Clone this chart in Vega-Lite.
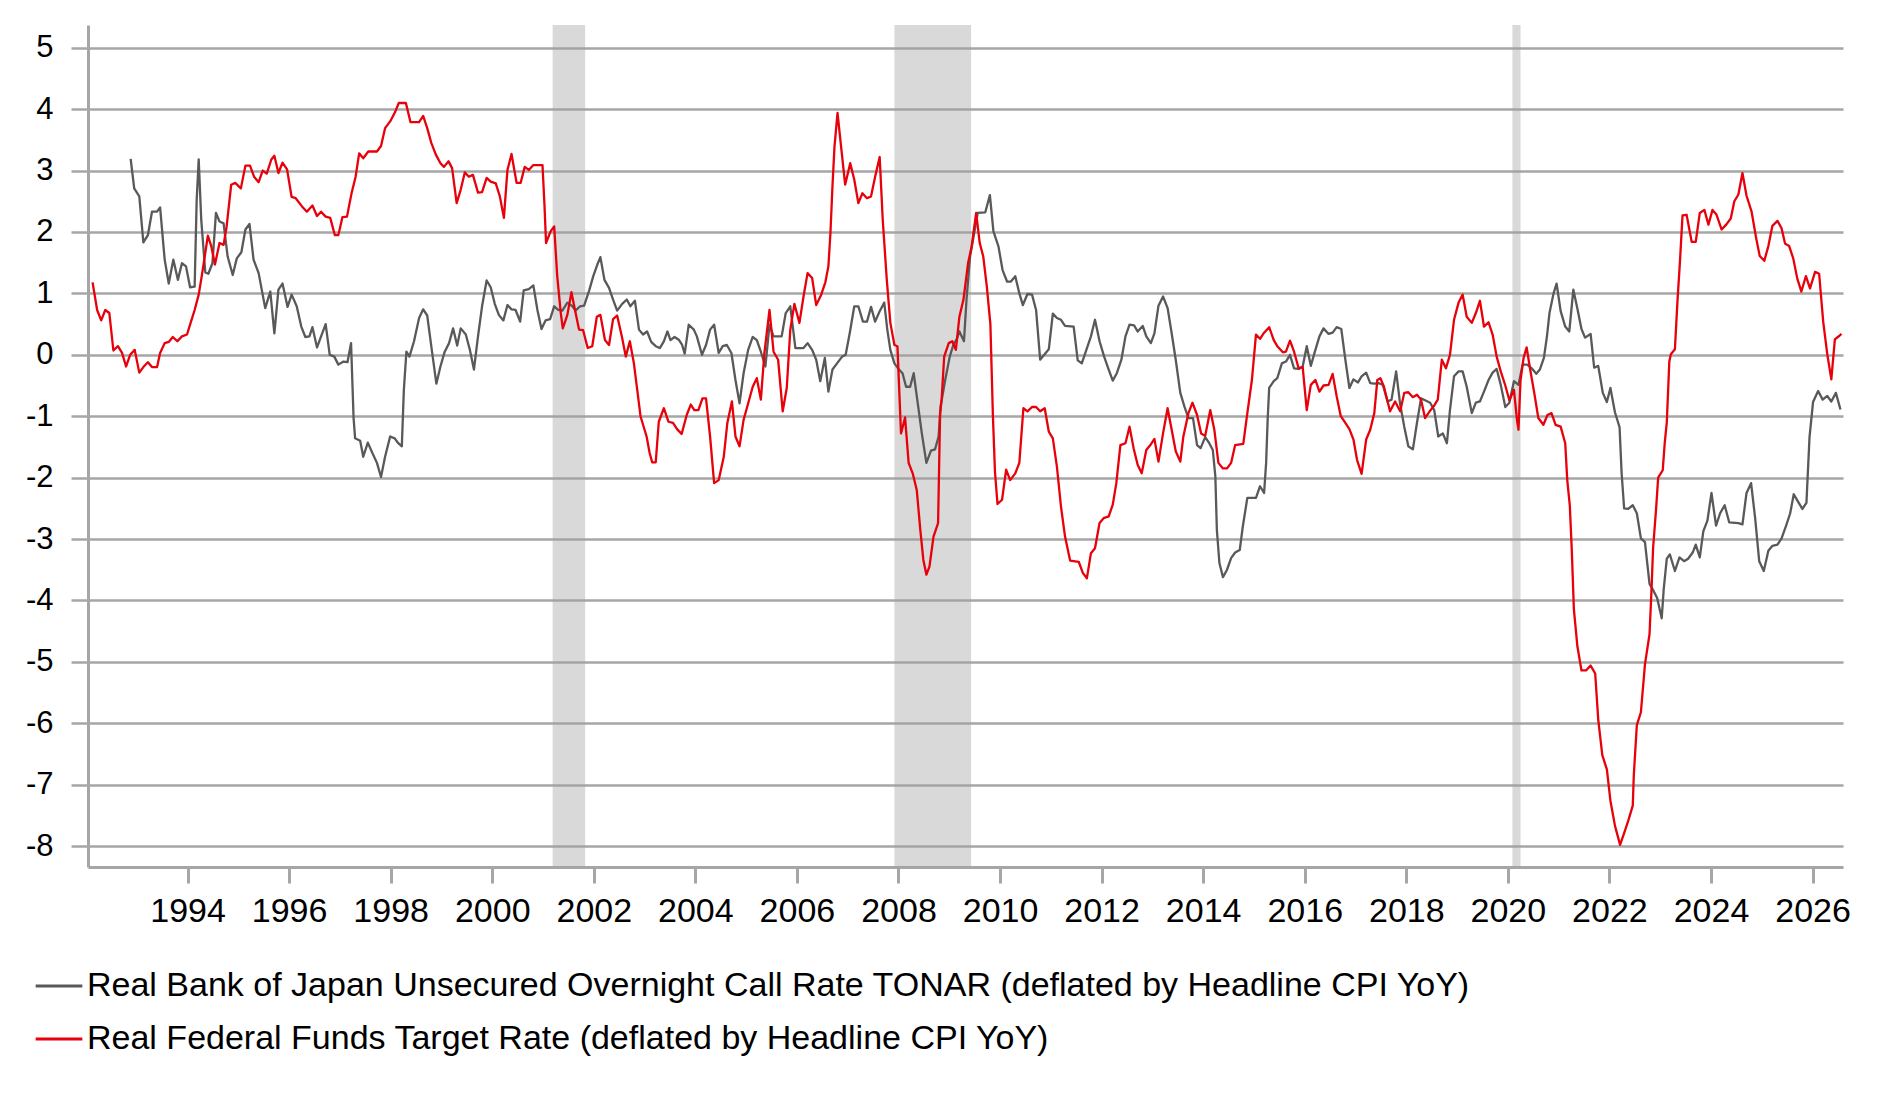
{
  "$schema": "https://vega.github.io/schema/vega-lite/v6.json",
  "width": 1755,
  "height": 842,
  "autosize": "none",
  "padding": {"left": 88, "top": 25, "right": 40, "bottom": 234},
  "background": "white",
  "config": {"view": {"stroke": null}, "font": "Liberation Sans"},
  "datasets": {
    "recessions": [
      {"start": 2001.19, "end": 2001.83},
      {"start": 2007.92, "end": 2009.43},
      {"start": 2020.09, "end": 2020.25}
    ],
    "rates": [
      {"s":"JP","t":1992.88,"v":3.19},{"s":"JP","t":1992.95,"v":2.71},{"s":"JP","t":1993.05,"v":2.58},{"s":"JP","t":1993.13,"v":1.83},
      {"s":"JP","t":1993.22,"v":1.95},{"s":"JP","t":1993.30,"v":2.33},{"s":"JP","t":1993.40,"v":2.33},{"s":"JP","t":1993.46,"v":2.40},
      {"s":"JP","t":1993.55,"v":1.55},{"s":"JP","t":1993.63,"v":1.16},{"s":"JP","t":1993.72,"v":1.55},{"s":"JP","t":1993.81,"v":1.22},
      {"s":"JP","t":1993.89,"v":1.49},{"s":"JP","t":1993.97,"v":1.44},{"s":"JP","t":1994.05,"v":1.10},{"s":"JP","t":1994.14,"v":1.11},
      {"s":"JP","t":1994.18,"v":2.52},{"s":"JP","t":1994.22,"v":3.18},{"s":"JP","t":1994.27,"v":2.20},{"s":"JP","t":1994.35,"v":1.34},
      {"s":"JP","t":1994.41,"v":1.32},{"s":"JP","t":1994.49,"v":1.49},{"s":"JP","t":1994.56,"v":2.31},{"s":"JP","t":1994.63,"v":2.17},
      {"s":"JP","t":1994.71,"v":2.14},{"s":"JP","t":1994.79,"v":1.60},{"s":"JP","t":1994.89,"v":1.30},{"s":"JP","t":1994.97,"v":1.57},
      {"s":"JP","t":1995.06,"v":1.67},{"s":"JP","t":1995.14,"v":2.04},{"s":"JP","t":1995.22,"v":2.13},{"s":"JP","t":1995.30,"v":1.55},
      {"s":"JP","t":1995.40,"v":1.33},{"s":"JP","t":1995.53,"v":0.76},{"s":"JP","t":1995.63,"v":1.03},{"s":"JP","t":1995.71,"v":0.35},
      {"s":"JP","t":1995.79,"v":1.06},{"s":"JP","t":1995.87,"v":1.16},{"s":"JP","t":1995.97,"v":0.78},{"s":"JP","t":1996.05,"v":0.98},
      {"s":"JP","t":1996.15,"v":0.79},{"s":"JP","t":1996.24,"v":0.46},{"s":"JP","t":1996.32,"v":0.29},{"s":"JP","t":1996.40,"v":0.30},
      {"s":"JP","t":1996.46,"v":0.45},{"s":"JP","t":1996.55,"v":0.12},{"s":"JP","t":1996.63,"v":0.30},{"s":"JP","t":1996.72,"v":0.50},
      {"s":"JP","t":1996.80,"v":0.00},{"s":"JP","t":1996.89,"v":-0.03},{"s":"JP","t":1996.97,"v":-0.16},{"s":"JP","t":1997.07,"v":-0.11},
      {"s":"JP","t":1997.15,"v":-0.12},{"s":"JP","t":1997.22,"v":0.19},{"s":"JP","t":1997.27,"v":-1.03},{"s":"JP","t":1997.30,"v":-1.36},
      {"s":"JP","t":1997.40,"v":-1.40},{"s":"JP","t":1997.46,"v":-1.66},{"s":"JP","t":1997.55,"v":-1.43},{"s":"JP","t":1997.64,"v":-1.60},
      {"s":"JP","t":1997.73,"v":-1.76},{"s":"JP","t":1997.81,"v":-1.99},{"s":"JP","t":1997.89,"v":-1.66},{"s":"JP","t":1997.99,"v":-1.33},
      {"s":"JP","t":1998.08,"v":-1.36},{"s":"JP","t":1998.15,"v":-1.44},{"s":"JP","t":1998.22,"v":-1.49},{"s":"JP","t":1998.26,"v":-0.57},
      {"s":"JP","t":1998.31,"v":0.05},{"s":"JP","t":1998.37,"v":-0.03},{"s":"JP","t":1998.46,"v":0.22},{"s":"JP","t":1998.56,"v":0.60},
      {"s":"JP","t":1998.64,"v":0.74},{"s":"JP","t":1998.72,"v":0.64},{"s":"JP","t":1998.81,"v":0.08},{"s":"JP","t":1998.90,"v":-0.47},
      {"s":"JP","t":1998.98,"v":-0.19},{"s":"JP","t":1999.06,"v":0.04},{"s":"JP","t":1999.15,"v":0.19},{"s":"JP","t":1999.23,"v":0.43},
      {"s":"JP","t":1999.31,"v":0.15},{"s":"JP","t":1999.38,"v":0.43},{"s":"JP","t":1999.48,"v":0.33},{"s":"JP","t":1999.56,"v":0.08},
      {"s":"JP","t":1999.64,"v":-0.24},{"s":"JP","t":1999.72,"v":0.30},{"s":"JP","t":1999.80,"v":0.79},{"s":"JP","t":1999.89,"v":1.21},
      {"s":"JP","t":1999.97,"v":1.10},{"s":"JP","t":2000.05,"v":0.83},{"s":"JP","t":2000.13,"v":0.65},{"s":"JP","t":2000.22,"v":0.56},
      {"s":"JP","t":2000.30,"v":0.81},{"s":"JP","t":2000.38,"v":0.74},{"s":"JP","t":2000.46,"v":0.73},{"s":"JP","t":2000.55,"v":0.54},
      {"s":"JP","t":2000.62,"v":1.05},{"s":"JP","t":2000.72,"v":1.07},{"s":"JP","t":2000.81,"v":1.13},{"s":"JP","t":2000.89,"v":0.73},
      {"s":"JP","t":2000.97,"v":0.42},{"s":"JP","t":2001.05,"v":0.56},{"s":"JP","t":2001.14,"v":0.58},{"s":"JP","t":2001.22,"v":0.79},
      {"s":"JP","t":2001.30,"v":0.73},{"s":"JP","t":2001.38,"v":0.72},{"s":"JP","t":2001.48,"v":0.85},{"s":"JP","t":2001.58,"v":0.79},
      {"s":"JP","t":2001.64,"v":0.72},{"s":"JP","t":2001.73,"v":0.79},{"s":"JP","t":2001.81,"v":0.80},{"s":"JP","t":2001.91,"v":1.05},
      {"s":"JP","t":2001.99,"v":1.28},{"s":"JP","t":2002.07,"v":1.47},{"s":"JP","t":2002.13,"v":1.59},{"s":"JP","t":2002.21,"v":1.22},
      {"s":"JP","t":2002.30,"v":1.09},{"s":"JP","t":2002.38,"v":0.90},{"s":"JP","t":2002.46,"v":0.72},{"s":"JP","t":2002.56,"v":0.83},
      {"s":"JP","t":2002.65,"v":0.90},{"s":"JP","t":2002.72,"v":0.79},{"s":"JP","t":2002.81,"v":0.88},{"s":"JP","t":2002.89,"v":0.41},
      {"s":"JP","t":2002.97,"v":0.33},{"s":"JP","t":2003.05,"v":0.38},{"s":"JP","t":2003.13,"v":0.21},{"s":"JP","t":2003.22,"v":0.14},
      {"s":"JP","t":2003.30,"v":0.11},{"s":"JP","t":2003.38,"v":0.22},{"s":"JP","t":2003.45,"v":0.38},{"s":"JP","t":2003.51,"v":0.24},
      {"s":"JP","t":2003.59,"v":0.29},{"s":"JP","t":2003.68,"v":0.24},{"s":"JP","t":2003.74,"v":0.16},{"s":"JP","t":2003.79,"v":0.02},
      {"s":"JP","t":2003.87,"v":0.49},{"s":"JP","t":2003.97,"v":0.41},{"s":"JP","t":2004.03,"v":0.30},{"s":"JP","t":2004.13,"v":0.00},
      {"s":"JP","t":2004.21,"v":0.16},{"s":"JP","t":2004.29,"v":0.41},{"s":"JP","t":2004.37,"v":0.49},{"s":"JP","t":2004.46,"v":0.03},
      {"s":"JP","t":2004.54,"v":0.14},{"s":"JP","t":2004.62,"v":0.16},{"s":"JP","t":2004.71,"v":0.03},{"s":"JP","t":2004.79,"v":-0.41},
      {"s":"JP","t":2004.87,"v":-0.79},{"s":"JP","t":2004.95,"v":-0.30},{"s":"JP","t":2005.04,"v":0.08},{"s":"JP","t":2005.13,"v":0.29},
      {"s":"JP","t":2005.21,"v":0.24},{"s":"JP","t":2005.29,"v":0.05},{"s":"JP","t":2005.38,"v":-0.19},{"s":"JP","t":2005.46,"v":0.49},
      {"s":"JP","t":2005.54,"v":0.30},{"s":"JP","t":2005.70,"v":0.30},{"s":"JP","t":2005.78,"v":0.68},{"s":"JP","t":2005.87,"v":0.79},
      {"s":"JP","t":2005.97,"v":0.11},{"s":"JP","t":2006.13,"v":0.11},{"s":"JP","t":2006.21,"v":0.19},{"s":"JP","t":2006.30,"v":0.08},
      {"s":"JP","t":2006.38,"v":-0.08},{"s":"JP","t":2006.46,"v":-0.43},{"s":"JP","t":2006.55,"v":-0.05},{"s":"JP","t":2006.62,"v":-0.60},
      {"s":"JP","t":2006.70,"v":-0.24},{"s":"JP","t":2006.79,"v":-0.14},{"s":"JP","t":2006.89,"v":-0.03},{"s":"JP","t":2006.96,"v":0.00},
      {"s":"JP","t":2007.04,"v":0.35},{"s":"JP","t":2007.13,"v":0.79},{"s":"JP","t":2007.21,"v":0.79},{"s":"JP","t":2007.30,"v":0.54},
      {"s":"JP","t":2007.38,"v":0.54},{"s":"JP","t":2007.46,"v":0.78},{"s":"JP","t":2007.54,"v":0.54},{"s":"JP","t":2007.63,"v":0.71},
      {"s":"JP","t":2007.72,"v":0.85},{"s":"JP","t":2007.78,"v":0.41},{"s":"JP","t":2007.84,"v":0.08},{"s":"JP","t":2007.92,"v":-0.14},
      {"s":"JP","t":2008.00,"v":-0.23},{"s":"JP","t":2008.08,"v":-0.30},{"s":"JP","t":2008.15,"v":-0.52},{"s":"JP","t":2008.23,"v":-0.52},
      {"s":"JP","t":2008.30,"v":-0.30},{"s":"JP","t":2008.37,"v":-0.73},{"s":"JP","t":2008.46,"v":-1.28},{"s":"JP","t":2008.55,"v":-1.76},
      {"s":"JP","t":2008.64,"v":-1.56},{"s":"JP","t":2008.72,"v":-1.54},{"s":"JP","t":2008.79,"v":-1.33},{"s":"JP","t":2008.83,"v":-0.84},
      {"s":"JP","t":2008.92,"v":-0.41},{"s":"JP","t":2009.01,"v":-0.03},{"s":"JP","t":2009.08,"v":0.16},{"s":"JP","t":2009.15,"v":0.26},
      {"s":"JP","t":2009.20,"v":0.38},{"s":"JP","t":2009.29,"v":0.22},{"s":"JP","t":2009.34,"v":0.90},{"s":"JP","t":2009.41,"v":1.60},
      {"s":"JP","t":2009.48,"v":1.93},{"s":"JP","t":2009.56,"v":2.31},{"s":"JP","t":2009.71,"v":2.32},{"s":"JP","t":2009.80,"v":2.60},
      {"s":"JP","t":2009.87,"v":2.01},{"s":"JP","t":2009.97,"v":1.76},{"s":"JP","t":2010.05,"v":1.38},{"s":"JP","t":2010.14,"v":1.19},
      {"s":"JP","t":2010.21,"v":1.19},{"s":"JP","t":2010.30,"v":1.28},{"s":"JP","t":2010.38,"v":1.00},{"s":"JP","t":2010.45,"v":0.81},
      {"s":"JP","t":2010.54,"v":0.99},{"s":"JP","t":2010.63,"v":0.98},{"s":"JP","t":2010.71,"v":0.73},{"s":"JP","t":2010.79,"v":-0.08},
      {"s":"JP","t":2010.87,"v":0.00},{"s":"JP","t":2010.96,"v":0.09},{"s":"JP","t":2011.04,"v":0.67},{"s":"JP","t":2011.12,"v":0.60},
      {"s":"JP","t":2011.20,"v":0.57},{"s":"JP","t":2011.28,"v":0.47},{"s":"JP","t":2011.45,"v":0.46},{"s":"JP","t":2011.53,"v":-0.09},
      {"s":"JP","t":2011.61,"v":-0.14},{"s":"JP","t":2011.70,"v":0.08},{"s":"JP","t":2011.79,"v":0.30},{"s":"JP","t":2011.87,"v":0.57},
      {"s":"JP","t":2011.96,"v":0.22},{"s":"JP","t":2012.05,"v":-0.03},{"s":"JP","t":2012.14,"v":-0.24},{"s":"JP","t":2012.22,"v":-0.42},
      {"s":"JP","t":2012.30,"v":-0.30},{"s":"JP","t":2012.39,"v":-0.08},{"s":"JP","t":2012.47,"v":0.30},{"s":"JP","t":2012.55,"v":0.49},
      {"s":"JP","t":2012.64,"v":0.48},{"s":"JP","t":2012.71,"v":0.38},{"s":"JP","t":2012.81,"v":0.47},{"s":"JP","t":2012.88,"v":0.30},
      {"s":"JP","t":2012.97,"v":0.19},{"s":"JP","t":2013.04,"v":0.35},{"s":"JP","t":2013.12,"v":0.80},{"s":"JP","t":2013.21,"v":0.95},
      {"s":"JP","t":2013.30,"v":0.76},{"s":"JP","t":2013.38,"v":0.35},{"s":"JP","t":2013.46,"v":-0.08},{"s":"JP","t":2013.55,"v":-0.62},
      {"s":"JP","t":2013.63,"v":-0.84},{"s":"JP","t":2013.71,"v":-1.03},{"s":"JP","t":2013.80,"v":-1.03},{"s":"JP","t":2013.88,"v":-1.47},
      {"s":"JP","t":2013.95,"v":-1.52},{"s":"JP","t":2014.04,"v":-1.34},{"s":"JP","t":2014.12,"v":-1.44},{"s":"JP","t":2014.19,"v":-1.55},
      {"s":"JP","t":2014.24,"v":-1.98},{"s":"JP","t":2014.27,"v":-2.85},{"s":"JP","t":2014.32,"v":-3.39},{"s":"JP","t":2014.39,"v":-3.62},
      {"s":"JP","t":2014.47,"v":-3.50},{"s":"JP","t":2014.55,"v":-3.31},{"s":"JP","t":2014.63,"v":-3.22},{"s":"JP","t":2014.72,"v":-3.18},
      {"s":"JP","t":2014.78,"v":-2.80},{"s":"JP","t":2014.87,"v":-2.33},{"s":"JP","t":2015.04,"v":-2.33},{"s":"JP","t":2015.12,"v":-2.14},
      {"s":"JP","t":2015.20,"v":-2.25},{"s":"JP","t":2015.24,"v":-1.76},{"s":"JP","t":2015.27,"v":-1.06},{"s":"JP","t":2015.30,"v":-0.54},
      {"s":"JP","t":2015.39,"v":-0.43},{"s":"JP","t":2015.46,"v":-0.38},{"s":"JP","t":2015.55,"v":-0.14},{"s":"JP","t":2015.63,"v":-0.11},
      {"s":"JP","t":2015.71,"v":0.00},{"s":"JP","t":2015.79,"v":-0.22},{"s":"JP","t":2015.88,"v":-0.23},{"s":"JP","t":2015.96,"v":-0.19},
      {"s":"JP","t":2016.04,"v":0.14},{"s":"JP","t":2016.12,"v":-0.18},{"s":"JP","t":2016.21,"v":0.08},{"s":"JP","t":2016.29,"v":0.30},
      {"s":"JP","t":2016.37,"v":0.43},{"s":"JP","t":2016.47,"v":0.34},{"s":"JP","t":2016.55,"v":0.36},{"s":"JP","t":2016.63,"v":0.45},
      {"s":"JP","t":2016.72,"v":0.42},{"s":"JP","t":2016.80,"v":-0.08},{"s":"JP","t":2016.88,"v":-0.54},{"s":"JP","t":2016.96,"v":-0.40},
      {"s":"JP","t":2017.05,"v":-0.45},{"s":"JP","t":2017.12,"v":-0.35},{"s":"JP","t":2017.21,"v":-0.29},{"s":"JP","t":2017.29,"v":-0.46},
      {"s":"JP","t":2017.37,"v":-0.47},{"s":"JP","t":2017.45,"v":-0.46},{"s":"JP","t":2017.54,"v":-0.49},{"s":"JP","t":2017.63,"v":-0.76},
      {"s":"JP","t":2017.71,"v":-0.73},{"s":"JP","t":2017.80,"v":-0.27},{"s":"JP","t":2017.88,"v":-0.81},{"s":"JP","t":2017.96,"v":-1.17},
      {"s":"JP","t":2018.04,"v":-1.49},{"s":"JP","t":2018.13,"v":-1.54},{"s":"JP","t":2018.21,"v":-1.11},{"s":"JP","t":2018.29,"v":-0.71},
      {"s":"JP","t":2018.37,"v":-0.74},{"s":"JP","t":2018.47,"v":-0.78},{"s":"JP","t":2018.55,"v":-0.90},{"s":"JP","t":2018.63,"v":-1.33},
      {"s":"JP","t":2018.72,"v":-1.28},{"s":"JP","t":2018.80,"v":-1.44},{"s":"JP","t":2018.86,"v":-0.90},{"s":"JP","t":2018.94,"v":-0.35},
      {"s":"JP","t":2019.03,"v":-0.27},{"s":"JP","t":2019.11,"v":-0.27},{"s":"JP","t":2019.19,"v":-0.52},{"s":"JP","t":2019.29,"v":-0.95},
      {"s":"JP","t":2019.37,"v":-0.78},{"s":"JP","t":2019.45,"v":-0.76},{"s":"JP","t":2019.53,"v":-0.60},{"s":"JP","t":2019.62,"v":-0.41},
      {"s":"JP","t":2019.70,"v":-0.29},{"s":"JP","t":2019.78,"v":-0.23},{"s":"JP","t":2019.86,"v":-0.49},{"s":"JP","t":2019.95,"v":-0.85},
      {"s":"JP","t":2020.03,"v":-0.78},{"s":"JP","t":2020.12,"v":-0.43},{"s":"JP","t":2020.21,"v":-0.49},{"s":"JP","t":2020.29,"v":-0.16},
      {"s":"JP","t":2020.38,"v":-0.16},{"s":"JP","t":2020.47,"v":-0.22},{"s":"JP","t":2020.56,"v":-0.31},{"s":"JP","t":2020.63,"v":-0.24},
      {"s":"JP","t":2020.71,"v":-0.05},{"s":"JP","t":2020.77,"v":0.30},{"s":"JP","t":2020.82,"v":0.68},{"s":"JP","t":2020.90,"v":1.00},
      {"s":"JP","t":2020.96,"v":1.16},{"s":"JP","t":2021.04,"v":0.71},{"s":"JP","t":2021.13,"v":0.46},{"s":"JP","t":2021.21,"v":0.38},
      {"s":"JP","t":2021.29,"v":1.06},{"s":"JP","t":2021.37,"v":0.75},{"s":"JP","t":2021.45,"v":0.42},{"s":"JP","t":2021.52,"v":0.28},
      {"s":"JP","t":2021.63,"v":0.34},{"s":"JP","t":2021.70,"v":-0.21},{"s":"JP","t":2021.78,"v":-0.18},{"s":"JP","t":2021.87,"v":-0.62},
      {"s":"JP","t":2021.95,"v":-0.77},{"s":"JP","t":2022.02,"v":-0.54},{"s":"JP","t":2022.11,"v":-0.94},{"s":"JP","t":2022.20,"v":-1.18},
      {"s":"JP","t":2022.24,"v":-1.92},{"s":"JP","t":2022.29,"v":-2.50},{"s":"JP","t":2022.37,"v":-2.51},{"s":"JP","t":2022.46,"v":-2.45},
      {"s":"JP","t":2022.54,"v":-2.58},{"s":"JP","t":2022.62,"v":-2.99},{"s":"JP","t":2022.70,"v":-3.05},{"s":"JP","t":2022.79,"v":-3.73},
      {"s":"JP","t":2022.86,"v":-3.83},{"s":"JP","t":2022.94,"v":-3.96},{"s":"JP","t":2023.03,"v":-4.29},{"s":"JP","t":2023.07,"v":-3.81},
      {"s":"JP","t":2023.13,"v":-3.32},{"s":"JP","t":2023.19,"v":-3.25},{"s":"JP","t":2023.29,"v":-3.52},{"s":"JP","t":2023.38,"v":-3.30},
      {"s":"JP","t":2023.47,"v":-3.36},{"s":"JP","t":2023.55,"v":-3.32},{"s":"JP","t":2023.64,"v":-3.22},{"s":"JP","t":2023.70,"v":-3.09},
      {"s":"JP","t":2023.78,"v":-3.30},{"s":"JP","t":2023.85,"v":-2.87},{"s":"JP","t":2023.93,"v":-2.70},{"s":"JP","t":2024.01,"v":-2.25},
      {"s":"JP","t":2024.10,"v":-2.78},{"s":"JP","t":2024.18,"v":-2.58},{"s":"JP","t":2024.27,"v":-2.45},{"s":"JP","t":2024.36,"v":-2.73},
      {"s":"JP","t":2024.54,"v":-2.74},{"s":"JP","t":2024.62,"v":-2.76},{"s":"JP","t":2024.70,"v":-2.25},{"s":"JP","t":2024.79,"v":-2.09},
      {"s":"JP","t":2024.87,"v":-2.66},{"s":"JP","t":2024.95,"v":-3.36},{"s":"JP","t":2025.04,"v":-3.52},{"s":"JP","t":2025.13,"v":-3.19},
      {"s":"JP","t":2025.21,"v":-3.11},{"s":"JP","t":2025.31,"v":-3.09},{"s":"JP","t":2025.39,"v":-2.99},{"s":"JP","t":2025.48,"v":-2.78},
      {"s":"JP","t":2025.56,"v":-2.58},{"s":"JP","t":2025.63,"v":-2.27},{"s":"JP","t":2025.72,"v":-2.40},{"s":"JP","t":2025.80,"v":-2.51},
      {"s":"JP","t":2025.88,"v":-2.41},{"s":"JP","t":2025.94,"v":-1.35},{"s":"JP","t":2026.01,"v":-0.77},{"s":"JP","t":2026.11,"v":-0.59},
      {"s":"JP","t":2026.20,"v":-0.73},{"s":"JP","t":2026.29,"v":-0.67},{"s":"JP","t":2026.37,"v":-0.76},{"s":"JP","t":2026.46,"v":-0.62},
      {"s":"JP","t":2026.55,"v":-0.89},

      {"s":"US","t":1992.13,"v":1.18},{"s":"US","t":1992.22,"v":0.73},{"s":"US","t":1992.30,"v":0.56},{"s":"US","t":1992.38,"v":0.73},
      {"s":"US","t":1992.46,"v":0.68},{"s":"US","t":1992.54,"v":0.07},{"s":"US","t":1992.63,"v":0.14},{"s":"US","t":1992.71,"v":0.03},
      {"s":"US","t":1992.79,"v":-0.19},{"s":"US","t":1992.87,"v":0.00},{"s":"US","t":1992.96,"v":0.08},{"s":"US","t":1993.05,"v":-0.29},
      {"s":"US","t":1993.13,"v":-0.20},{"s":"US","t":1993.22,"v":-0.12},{"s":"US","t":1993.30,"v":-0.20},{"s":"US","t":1993.40,"v":-0.20},
      {"s":"US","t":1993.46,"v":0.03},{"s":"US","t":1993.55,"v":0.19},{"s":"US","t":1993.63,"v":0.21},{"s":"US","t":1993.71,"v":0.29},
      {"s":"US","t":1993.80,"v":0.22},{"s":"US","t":1993.89,"v":0.30},{"s":"US","t":1993.99,"v":0.33},{"s":"US","t":1994.05,"v":0.49},
      {"s":"US","t":1994.14,"v":0.73},{"s":"US","t":1994.22,"v":0.98},{"s":"US","t":1994.28,"v":1.28},{"s":"US","t":1994.35,"v":1.66},
      {"s":"US","t":1994.40,"v":1.94},{"s":"US","t":1994.47,"v":1.76},{"s":"US","t":1994.54,"v":1.47},{"s":"US","t":1994.63,"v":1.82},
      {"s":"US","t":1994.71,"v":1.79},{"s":"US","t":1994.77,"v":2.09},{"s":"US","t":1994.86,"v":2.77},{"s":"US","t":1994.94,"v":2.80},
      {"s":"US","t":1995.05,"v":2.71},{"s":"US","t":1995.14,"v":3.08},{"s":"US","t":1995.23,"v":3.08},{"s":"US","t":1995.31,"v":2.90},
      {"s":"US","t":1995.40,"v":2.81},{"s":"US","t":1995.48,"v":3.00},{"s":"US","t":1995.56,"v":2.95},{"s":"US","t":1995.65,"v":3.18},
      {"s":"US","t":1995.71,"v":3.24},{"s":"US","t":1995.79,"v":2.96},{"s":"US","t":1995.87,"v":3.13},{"s":"US","t":1995.96,"v":3.02},
      {"s":"US","t":1996.05,"v":2.57},{"s":"US","t":1996.13,"v":2.55},{"s":"US","t":1996.25,"v":2.42},{"s":"US","t":1996.35,"v":2.33},
      {"s":"US","t":1996.46,"v":2.43},{"s":"US","t":1996.55,"v":2.26},{"s":"US","t":1996.63,"v":2.33},{"s":"US","t":1996.72,"v":2.25},
      {"s":"US","t":1996.81,"v":2.23},{"s":"US","t":1996.90,"v":1.95},{"s":"US","t":1996.97,"v":1.95},{"s":"US","t":1997.05,"v":2.24},
      {"s":"US","t":1997.14,"v":2.25},{"s":"US","t":1997.23,"v":2.63},{"s":"US","t":1997.31,"v":2.90},{"s":"US","t":1997.38,"v":3.28},
      {"s":"US","t":1997.46,"v":3.20},{"s":"US","t":1997.56,"v":3.31},{"s":"US","t":1997.73,"v":3.31},{"s":"US","t":1997.81,"v":3.40},
      {"s":"US","t":1997.89,"v":3.69},{"s":"US","t":1997.99,"v":3.80},{"s":"US","t":1998.08,"v":3.94},{"s":"US","t":1998.16,"v":4.10},
      {"s":"US","t":1998.30,"v":4.10},{"s":"US","t":1998.39,"v":3.79},{"s":"US","t":1998.56,"v":3.79},{"s":"US","t":1998.64,"v":3.89},
      {"s":"US","t":1998.72,"v":3.69},{"s":"US","t":1998.80,"v":3.45},{"s":"US","t":1998.89,"v":3.26},{"s":"US","t":1998.98,"v":3.12},
      {"s":"US","t":1999.05,"v":3.06},{"s":"US","t":1999.14,"v":3.15},{"s":"US","t":1999.21,"v":3.04},{"s":"US","t":1999.30,"v":2.47},
      {"s":"US","t":1999.38,"v":2.69},{"s":"US","t":1999.46,"v":2.97},{"s":"US","t":1999.54,"v":2.90},{"s":"US","t":1999.62,"v":2.93},
      {"s":"US","t":1999.72,"v":2.64},{"s":"US","t":1999.80,"v":2.65},{"s":"US","t":1999.89,"v":2.88},{"s":"US","t":1999.97,"v":2.82},
      {"s":"US","t":2000.07,"v":2.79},{"s":"US","t":2000.15,"v":2.58},{"s":"US","t":2000.23,"v":2.23},{"s":"US","t":2000.30,"v":3.01},
      {"s":"US","t":2000.38,"v":3.27},{"s":"US","t":2000.48,"v":2.80},{"s":"US","t":2000.56,"v":2.80},{"s":"US","t":2000.64,"v":3.06},
      {"s":"US","t":2000.72,"v":3.01},{"s":"US","t":2000.81,"v":3.09},{"s":"US","t":2000.99,"v":3.09},{"s":"US","t":2001.03,"v":2.42},
      {"s":"US","t":2001.06,"v":1.82},{"s":"US","t":2001.15,"v":2.01},{"s":"US","t":2001.22,"v":2.09},{"s":"US","t":2001.28,"v":1.28},
      {"s":"US","t":2001.35,"v":0.68},{"s":"US","t":2001.39,"v":0.43},{"s":"US","t":2001.48,"v":0.65},{"s":"US","t":2001.56,"v":1.02},
      {"s":"US","t":2001.63,"v":0.73},{"s":"US","t":2001.71,"v":0.41},{"s":"US","t":2001.79,"v":0.40},{"s":"US","t":2001.88,"v":0.11},
      {"s":"US","t":2001.97,"v":0.14},{"s":"US","t":2002.06,"v":0.62},{"s":"US","t":2002.13,"v":0.65},{"s":"US","t":2002.22,"v":0.24},
      {"s":"US","t":2002.30,"v":0.16},{"s":"US","t":2002.38,"v":0.58},{"s":"US","t":2002.46,"v":0.64},{"s":"US","t":2002.56,"v":0.27},
      {"s":"US","t":2002.63,"v":-0.03},{"s":"US","t":2002.71,"v":0.22},{"s":"US","t":2002.79,"v":-0.14},{"s":"US","t":2002.86,"v":-0.60},
      {"s":"US","t":2002.92,"v":-1.00},{"s":"US","t":2003.04,"v":-1.33},{"s":"US","t":2003.10,"v":-1.60},{"s":"US","t":2003.15,"v":-1.75},
      {"s":"US","t":2003.22,"v":-1.75},{"s":"US","t":2003.28,"v":-1.09},{"s":"US","t":2003.38,"v":-0.87},{"s":"US","t":2003.47,"v":-1.09},
      {"s":"US","t":2003.56,"v":-1.11},{"s":"US","t":2003.64,"v":-1.21},{"s":"US","t":2003.73,"v":-1.29},{"s":"US","t":2003.83,"v":-0.98},
      {"s":"US","t":2003.91,"v":-0.81},{"s":"US","t":2003.98,"v":-0.90},{"s":"US","t":2004.06,"v":-0.90},{"s":"US","t":2004.14,"v":-0.71},
      {"s":"US","t":2004.21,"v":-0.71},{"s":"US","t":2004.29,"v":-1.33},{"s":"US","t":2004.37,"v":-2.09},{"s":"US","t":2004.46,"v":-2.04},
      {"s":"US","t":2004.56,"v":-1.66},{"s":"US","t":2004.63,"v":-1.11},{"s":"US","t":2004.72,"v":-0.76},{"s":"US","t":2004.79,"v":-1.33},
      {"s":"US","t":2004.87,"v":-1.49},{"s":"US","t":2004.95,"v":-1.06},{"s":"US","t":2005.05,"v":-0.76},{"s":"US","t":2005.13,"v":-0.52},
      {"s":"US","t":2005.21,"v":-0.38},{"s":"US","t":2005.29,"v":-0.73},{"s":"US","t":2005.36,"v":0.03},{"s":"US","t":2005.46,"v":0.73},
      {"s":"US","t":2005.54,"v":0.05},{"s":"US","t":2005.63,"v":-0.08},{"s":"US","t":2005.72,"v":-0.92},{"s":"US","t":2005.80,"v":-0.54},
      {"s":"US","t":2005.87,"v":0.41},{"s":"US","t":2005.95,"v":0.83},{"s":"US","t":2006.05,"v":0.52},{"s":"US","t":2006.13,"v":0.95},
      {"s":"US","t":2006.21,"v":1.33},{"s":"US","t":2006.30,"v":1.25},{"s":"US","t":2006.38,"v":0.81},{"s":"US","t":2006.47,"v":0.96},
      {"s":"US","t":2006.56,"v":1.18},{"s":"US","t":2006.62,"v":1.44},{"s":"US","t":2006.66,"v":1.98},{"s":"US","t":2006.70,"v":2.74},
      {"s":"US","t":2006.74,"v":3.39},{"s":"US","t":2006.80,"v":3.94},{"s":"US","t":2006.87,"v":3.39},{"s":"US","t":2006.95,"v":2.77},
      {"s":"US","t":2007.05,"v":3.12},{"s":"US","t":2007.13,"v":2.85},{"s":"US","t":2007.21,"v":2.47},{"s":"US","t":2007.29,"v":2.63},
      {"s":"US","t":2007.38,"v":2.55},{"s":"US","t":2007.46,"v":2.58},{"s":"US","t":2007.54,"v":2.90},{"s":"US","t":2007.63,"v":3.22},
      {"s":"US","t":2007.69,"v":2.20},{"s":"US","t":2007.77,"v":1.22},{"s":"US","t":2007.84,"v":0.52},{"s":"US","t":2007.92,"v":0.16},
      {"s":"US","t":2007.98,"v":0.14},{"s":"US","t":2008.05,"v":-1.28},{"s":"US","t":2008.13,"v":-1.02},{"s":"US","t":2008.20,"v":-1.76},
      {"s":"US","t":2008.28,"v":-1.93},{"s":"US","t":2008.36,"v":-2.20},{"s":"US","t":2008.43,"v":-2.85},{"s":"US","t":2008.49,"v":-3.34},
      {"s":"US","t":2008.55,"v":-3.58},{"s":"US","t":2008.61,"v":-3.45},{"s":"US","t":2008.69,"v":-2.96},{"s":"US","t":2008.78,"v":-2.74},
      {"s":"US","t":2008.82,"v":-0.95},{"s":"US","t":2008.85,"v":-0.73},{"s":"US","t":2008.90,"v":-0.03},{"s":"US","t":2008.99,"v":0.19},
      {"s":"US","t":2009.06,"v":0.22},{"s":"US","t":2009.13,"v":0.08},{"s":"US","t":2009.20,"v":0.62},{"s":"US","t":2009.28,"v":0.90},
      {"s":"US","t":2009.37,"v":1.49},{"s":"US","t":2009.44,"v":1.76},{"s":"US","t":2009.53,"v":2.31},{"s":"US","t":2009.60,"v":1.82},
      {"s":"US","t":2009.67,"v":1.60},{"s":"US","t":2009.74,"v":1.11},{"s":"US","t":2009.81,"v":0.50},{"s":"US","t":2009.86,"v":-1.00},
      {"s":"US","t":2009.90,"v":-1.90},{"s":"US","t":2009.95,"v":-2.43},{"s":"US","t":2010.04,"v":-2.36},{"s":"US","t":2010.12,"v":-1.87},
      {"s":"US","t":2010.20,"v":-2.04},{"s":"US","t":2010.30,"v":-1.93},{"s":"US","t":2010.38,"v":-1.76},{"s":"US","t":2010.46,"v":-0.87},
      {"s":"US","t":2010.54,"v":-0.92},{"s":"US","t":2010.63,"v":-0.85},{"s":"US","t":2010.71,"v":-0.85},{"s":"US","t":2010.79,"v":-0.92},
      {"s":"US","t":2010.88,"v":-0.87},{"s":"US","t":2010.96,"v":-1.25},{"s":"US","t":2011.04,"v":-1.36},{"s":"US","t":2011.12,"v":-1.82},
      {"s":"US","t":2011.20,"v":-2.47},{"s":"US","t":2011.28,"v":-2.96},{"s":"US","t":2011.38,"v":-3.35},{"s":"US","t":2011.55,"v":-3.37},
      {"s":"US","t":2011.63,"v":-3.55},{"s":"US","t":2011.71,"v":-3.64},{"s":"US","t":2011.79,"v":-3.23},{"s":"US","t":2011.87,"v":-3.15},
      {"s":"US","t":2011.96,"v":-2.74},{"s":"US","t":2012.04,"v":-2.66},{"s":"US","t":2012.14,"v":-2.63},{"s":"US","t":2012.22,"v":-2.44},
      {"s":"US","t":2012.29,"v":-2.09},{"s":"US","t":2012.37,"v":-1.47},{"s":"US","t":2012.47,"v":-1.44},{"s":"US","t":2012.55,"v":-1.17},
      {"s":"US","t":2012.63,"v":-1.52},{"s":"US","t":2012.71,"v":-1.79},{"s":"US","t":2012.79,"v":-1.93},{"s":"US","t":2012.88,"v":-1.55},
      {"s":"US","t":2012.96,"v":-1.47},{"s":"US","t":2013.04,"v":-1.37},{"s":"US","t":2013.12,"v":-1.74},{"s":"US","t":2013.21,"v":-1.28},
      {"s":"US","t":2013.30,"v":-0.87},{"s":"US","t":2013.38,"v":-1.22},{"s":"US","t":2013.46,"v":-1.57},{"s":"US","t":2013.55,"v":-1.74},
      {"s":"US","t":2013.61,"v":-1.33},{"s":"US","t":2013.71,"v":-0.95},{"s":"US","t":2013.79,"v":-0.78},{"s":"US","t":2013.88,"v":-0.98},
      {"s":"US","t":2013.96,"v":-1.28},{"s":"US","t":2014.04,"v":-1.32},{"s":"US","t":2014.14,"v":-0.90},{"s":"US","t":2014.22,"v":-1.22},
      {"s":"US","t":2014.30,"v":-1.76},{"s":"US","t":2014.39,"v":-1.85},{"s":"US","t":2014.47,"v":-1.85},{"s":"US","t":2014.55,"v":-1.76},
      {"s":"US","t":2014.63,"v":-1.47},{"s":"US","t":2014.79,"v":-1.45},{"s":"US","t":2014.87,"v":-0.95},{"s":"US","t":2014.96,"v":-0.41},
      {"s":"US","t":2015.04,"v":0.33},{"s":"US","t":2015.12,"v":0.26},{"s":"US","t":2015.20,"v":0.36},{"s":"US","t":2015.30,"v":0.45},
      {"s":"US","t":2015.39,"v":0.24},{"s":"US","t":2015.46,"v":0.14},{"s":"US","t":2015.57,"v":0.04},{"s":"US","t":2015.63,"v":0.05},
      {"s":"US","t":2015.71,"v":0.23},{"s":"US","t":2015.79,"v":0.05},{"s":"US","t":2015.88,"v":-0.22},{"s":"US","t":2015.96,"v":-0.20},
      {"s":"US","t":2016.04,"v":-0.90},{"s":"US","t":2016.12,"v":-0.49},{"s":"US","t":2016.21,"v":-0.41},{"s":"US","t":2016.29,"v":-0.60},
      {"s":"US","t":2016.37,"v":-0.50},{"s":"US","t":2016.47,"v":-0.49},{"s":"US","t":2016.55,"v":-0.31},{"s":"US","t":2016.63,"v":-0.68},
      {"s":"US","t":2016.71,"v":-1.00},{"s":"US","t":2016.80,"v":-1.11},{"s":"US","t":2016.88,"v":-1.21},{"s":"US","t":2016.96,"v":-1.38},
      {"s":"US","t":2017.03,"v":-1.71},{"s":"US","t":2017.12,"v":-1.94},{"s":"US","t":2017.21,"v":-1.38},{"s":"US","t":2017.29,"v":-1.22},
      {"s":"US","t":2017.37,"v":-0.95},{"s":"US","t":2017.43,"v":-0.41},{"s":"US","t":2017.49,"v":-0.38},{"s":"US","t":2017.56,"v":-0.52},
      {"s":"US","t":2017.68,"v":-0.92},{"s":"US","t":2017.78,"v":-0.76},{"s":"US","t":2017.88,"v":-0.92},{"s":"US","t":2017.96,"v":-0.62},
      {"s":"US","t":2018.04,"v":-0.61},{"s":"US","t":2018.13,"v":-0.69},{"s":"US","t":2018.21,"v":-0.65},{"s":"US","t":2018.29,"v":-0.73},
      {"s":"US","t":2018.37,"v":-1.03},{"s":"US","t":2018.46,"v":-0.92},{"s":"US","t":2018.54,"v":-0.84},{"s":"US","t":2018.62,"v":-0.73},
      {"s":"US","t":2018.70,"v":-0.08},{"s":"US","t":2018.78,"v":-0.22},{"s":"US","t":2018.86,"v":0.00},{"s":"US","t":2018.94,"v":0.57},
      {"s":"US","t":2019.03,"v":0.85},{"s":"US","t":2019.11,"v":0.98},{"s":"US","t":2019.19,"v":0.62},{"s":"US","t":2019.29,"v":0.52},
      {"s":"US","t":2019.37,"v":0.68},{"s":"US","t":2019.45,"v":0.88},{"s":"US","t":2019.53,"v":0.46},{"s":"US","t":2019.62,"v":0.53},
      {"s":"US","t":2019.70,"v":0.33},{"s":"US","t":2019.78,"v":-0.03},{"s":"US","t":2019.86,"v":-0.27},{"s":"US","t":2019.95,"v":-0.50},
      {"s":"US","t":2020.03,"v":-0.74},{"s":"US","t":2020.12,"v":-0.57},{"s":"US","t":2020.18,"v":-1.06},{"s":"US","t":2020.21,"v":-1.22},
      {"s":"US","t":2020.25,"v":-0.41},{"s":"US","t":2020.31,"v":-0.05},{"s":"US","t":2020.37,"v":0.12},{"s":"US","t":2020.44,"v":-0.24},
      {"s":"US","t":2020.52,"v":-0.62},{"s":"US","t":2020.60,"v":-1.03},{"s":"US","t":2020.70,"v":-1.14},{"s":"US","t":2020.78,"v":-0.98},
      {"s":"US","t":2020.86,"v":-0.95},{"s":"US","t":2020.94,"v":-1.14},{"s":"US","t":2021.04,"v":-1.17},{"s":"US","t":2021.13,"v":-1.44},
      {"s":"US","t":2021.17,"v":-2.04},{"s":"US","t":2021.22,"v":-2.45},{"s":"US","t":2021.26,"v":-3.20},{"s":"US","t":2021.30,"v":-4.14},
      {"s":"US","t":2021.37,"v":-4.75},{"s":"US","t":2021.45,"v":-5.14},{"s":"US","t":2021.54,"v":-5.14},{"s":"US","t":2021.63,"v":-5.06},
      {"s":"US","t":2021.72,"v":-5.19},{"s":"US","t":2021.78,"v":-5.94},{"s":"US","t":2021.86,"v":-6.52},{"s":"US","t":2021.95,"v":-6.75},
      {"s":"US","t":2022.02,"v":-7.26},{"s":"US","t":2022.11,"v":-7.67},{"s":"US","t":2022.21,"v":-7.98},{"s":"US","t":2022.29,"v":-7.79},
      {"s":"US","t":2022.37,"v":-7.59},{"s":"US","t":2022.46,"v":-7.34},{"s":"US","t":2022.48,"v":-6.85},{"s":"US","t":2022.54,"v":-6.03},
      {"s":"US","t":2022.62,"v":-5.82},{"s":"US","t":2022.70,"v":-5.04},{"s":"US","t":2022.79,"v":-4.55},{"s":"US","t":2022.83,"v":-3.81},
      {"s":"US","t":2022.86,"v":-3.15},{"s":"US","t":2022.92,"v":-2.50},{"s":"US","t":2022.96,"v":-2.00},{"s":"US","t":2023.05,"v":-1.88},
      {"s":"US","t":2023.09,"v":-1.43},{"s":"US","t":2023.13,"v":-1.10},{"s":"US","t":2023.18,"v":-0.11},{"s":"US","t":2023.21,"v":0.01},
      {"s":"US","t":2023.29,"v":0.09},{"s":"US","t":2023.34,"v":0.87},{"s":"US","t":2023.39,"v":1.53},{"s":"US","t":2023.44,"v":2.27},
      {"s":"US","t":2023.52,"v":2.28},{"s":"US","t":2023.62,"v":1.84},{"s":"US","t":2023.70,"v":1.84},{"s":"US","t":2023.78,"v":2.31},
      {"s":"US","t":2023.87,"v":2.36},{"s":"US","t":2023.95,"v":2.12},{"s":"US","t":2024.03,"v":2.36},{"s":"US","t":2024.11,"v":2.28},
      {"s":"US","t":2024.21,"v":2.04},{"s":"US","t":2024.30,"v":2.12},{"s":"US","t":2024.39,"v":2.22},{"s":"US","t":2024.46,"v":2.50},
      {"s":"US","t":2024.54,"v":2.61},{"s":"US","t":2024.62,"v":2.96},{"s":"US","t":2024.70,"v":2.59},{"s":"US","t":2024.80,"v":2.33},
      {"s":"US","t":2024.89,"v":1.90},{"s":"US","t":2024.96,"v":1.61},{"s":"US","t":2025.05,"v":1.53},{"s":"US","t":2025.13,"v":1.77},
      {"s":"US","t":2025.21,"v":2.10},{"s":"US","t":2025.31,"v":2.18},{"s":"US","t":2025.39,"v":2.06},{"s":"US","t":2025.46,"v":1.81},
      {"s":"US","t":2025.54,"v":1.77},{"s":"US","t":2025.62,"v":1.57},{"s":"US","t":2025.70,"v":1.24},{"s":"US","t":2025.78,"v":1.03},
      {"s":"US","t":2025.87,"v":1.28},{"s":"US","t":2025.95,"v":1.08},{"s":"US","t":2026.05,"v":1.35},{"s":"US","t":2026.13,"v":1.32},
      {"s":"US","t":2026.21,"v":0.54},{"s":"US","t":2026.29,"v":0.01},{"s":"US","t":2026.37,"v":-0.40},{"s":"US","t":2026.44,"v":0.25},
      {"s":"US","t":2026.53,"v":0.31},{"s":"US","t":2026.57,"v":0.34}
    ]
  },
  "layer": [
    {
      "data": {"name": "recessions"},
      "mark": {"type": "rect", "fill": "#a0a0a0", "opacity": 0.4},
      "encoding": {
        "x": {
          "field": "start",
          "type": "quantitative",
          "scale": {"domain": [1992.04, 2026.6], "nice": false, "zero": false},
          "axis": {
            "title": null,
            "values": [1994, 1996, 1998, 2000, 2002, 2004, 2006, 2008, 2010, 2012, 2014, 2016, 2018, 2020, 2022, 2024, 2026],
            "format": "d",
            "grid": false,
            "domainColor": "#a6a6a6",
            "domainWidth": 3,
            "tickColor": "#a6a6a6",
            "tickWidth": 3,
            "tickSize": 16,
            "labelFont": "Liberation Sans",
            "labelFontSize": 34,
            "labelColor": "#000000",
            "labelPadding": 11,
            "labelFlush": false,
            "labelOverlap": false
          }
        },
        "x2": {"field": "end"}
      }
    },
    {
      "data": {"name": "rates"},
      "mark": {"type": "line", "strokeWidth": 2.3, "strokeJoin": "round"},
      "encoding": {
        "x": {"field": "t", "type": "quantitative"},
        "y": {
          "field": "v",
          "type": "quantitative",
          "scale": {"domain": [-8.34, 5.37], "nice": false, "zero": false},
          "axis": {
            "title": null,
            "values": [-8, -7, -6, -5, -4, -3, -2, -1, 0, 1, 2, 3, 4, 5],
            "labelExpr": "'' + datum.value",
            "grid": true,
            "gridColor": "#a6a6a6",
            "gridWidth": 2.5,
            "domainColor": "#a6a6a6",
            "domainWidth": 3,
            "tickColor": "#a6a6a6",
            "tickWidth": 2.5,
            "tickSize": 17,
            "labelFont": "Liberation Sans",
            "labelFontSize": 31,
            "labelColor": "#000000",
            "labelPadding": 18
          }
        },
        "color": {
          "field": "s",
          "type": "nominal",
          "scale": {"domain": ["JP", "US"], "range": ["#595959", "#e8000b"]},
          "legend": {
            "title": null,
            "orient": "none",
            "legendX": -54,
            "legendY": 936,
            "direction": "vertical",
            "padding": 0,
            "symbolType": "stroke",
            "symbolSize": 2180,
            "symbolStrokeWidth": 3,
            "labelFont": "Liberation Sans",
            "labelFontSize": 34,
            "labelColor": "#000000",
            "labelOffset": 3,
            "labelLimit": 2000,
            "rowPadding": 11,
            "labelExpr": "datum.value == 'JP' ? 'Real Bank of Japan Unsecured Overnight Call Rate TONAR (deflated by Headline CPI YoY)' : 'Real Federal Funds Target Rate (deflated by Headline CPI YoY)'"
          }
        }
      }
    }
  ]
}
